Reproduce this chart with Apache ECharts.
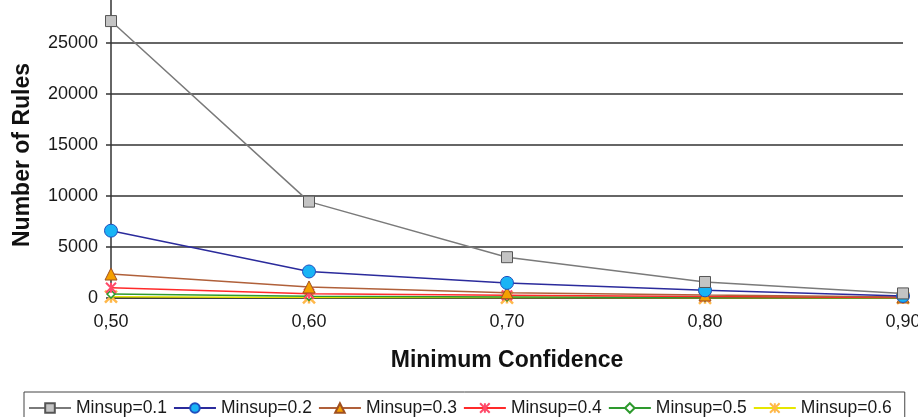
<!DOCTYPE html>
<html>
<head>
<meta charset="utf-8">
<script src="https://cdn.jsdelivr.net/npm/echarts@6/dist/echarts.min.js"></script>
<style>
html,body{margin:0;padding:0;background:#fff;overflow:hidden;}
#chart{width:918px;height:425px;margin-top:-8px;}
</style>
</head>
<body>
<div id="chart"></div>
<script>
const categories = ['0,50', '0,60', '0,70', '0,80', '0,90'];
const seriesNames = ['Minsup=0.1', 'Minsup=0.2', 'Minsup=0.3', 'Minsup=0.4', 'Minsup=0.5', 'Minsup=0.6'];
const minsup01 = [27150, 9450, 4000, 1570, 450];
const minsup02 = [6600, 2600, 1480, 750, 200];
const minsup03 = [2350, 1080, 520, 300, 100];
const minsup04 = [1000, 420, 260, 150, 50];
const minsup05 = [380, 160, 100, 50, 20];
const minsup06 = [130, 60, 40, 20, 10];
const yTicks = [0, 5000, 10000, 15000, 20000, 25000, 30000];

const FONT = 'Liberation Sans, Arial, sans-serif';
const starPath = 'path://M0,0L10,10M10,0L0,10M5,0L5,10';
const xPath = 'path://M0,0L10,10M10,0L0,10M5,0L5,10';

const styles = [
  {line: '#7a7a7a', symbol: 'rect', size: 11, fill: '#c4c4c4', border: '#555555', bw: 1},
  {line: '#2b2b9c', symbol: 'circle', size: 13, fill: '#19b4f5', border: '#1f4fbf', bw: 1},
  {line: '#b0603a', symbol: 'triangle', size: 12, fill: '#f5a000', border: '#a05020', bw: 1},
  {line: '#ff2a2a', symbol: starPath, size: 10, fill: '#ff4a6a', border: '#ff4a6a', bw: 2},
  {line: '#2e9a2e', symbol: 'diamond', size: 8, fill: '#ffffff', border: '#2e9a2e', bw: 1.5},
  {line: '#e6e600', symbol: xPath, size: 12, fill: '#ffb84a', border: '#ffb84a', bw: 2.5}
];
const dataSets = [minsup01, minsup02, minsup03, minsup04, minsup05, minsup06];

const series = dataSets.map((d, i) => ({
  name: seriesNames[i],
  type: 'line',
  data: d,
  symbol: styles[i].symbol,
  symbolSize: styles[i].size,
  showAllSymbol: true,
  z: 10 - i,
  lineStyle: {color: styles[i].line, width: 1.5},
  itemStyle: {color: styles[i].fill, borderColor: styles[i].border, borderWidth: styles[i].bw},
  emphasis: {disabled: true},
  animation: false
}));

const chart = echarts.init(document.getElementById('chart'));
chart.setOption({
  animation: false,
  backgroundColor: '#ffffff',
  grid: {left: 111, right: 15, top: 0, bottom: 119, containLabel: false, outerBoundsMode: 'none'},
  xAxis: {
    type: 'category',
    data: categories,
    boundaryGap: false,
    name: 'Minimum Confidence',
    nameLocation: 'middle',
    nameGap: 51,
    nameTextStyle: {fontFamily: FONT, fontSize: 23, fontWeight: 'bold', color: '#111'},
    axisLine: {show: true, lineStyle: {color: '#333', width: 1.5}},
    axisTick: {show: false},
    axisLabel: {fontFamily: FONT, fontSize: 18, color: '#1a1a1a', margin: 15, showMaxLabel: true},
    splitLine: {show: false}
  },
  yAxis: {
    type: 'value',
    min: yTicks[0],
    max: yTicks[yTicks.length - 1],
    interval: 5000,
    name: 'Number of Rules',
    nameLocation: 'middle',
    nameGap: 77,
    nameRotate: 90,
    nameTextStyle: {fontFamily: FONT, fontSize: 23, fontWeight: 'bold', color: '#111', padding: [0, 20, 0, 0]},
    axisLine: {show: true, lineStyle: {color: '#333', width: 1.5}},
    axisTick: {show: true, length: 5, lineStyle: {color: '#333', width: 1.5}},
    axisLabel: {fontFamily: FONT, fontSize: 18, color: '#1a1a1a', margin: 13,
      formatter: v => (v === 30000 ? '' : String(v))},
    splitLine: {show: true, lineStyle: {color: '#333', width: 1.5}}
  },
  legend: {
    data: seriesNames,
    left: 24,
    top: 400,
    orient: 'horizontal',
    padding: [7, 13, 6, 4],
    itemGap: 6,
    itemWidth: 42,
    itemHeight: 12,
    borderColor: '#444',
    borderWidth: 1,
    textStyle: {fontFamily: FONT, fontSize: 17.5, color: '#1a1a1a'},
    selectedMode: false
  },
  series: series
});
</script>
</body>
</html>
